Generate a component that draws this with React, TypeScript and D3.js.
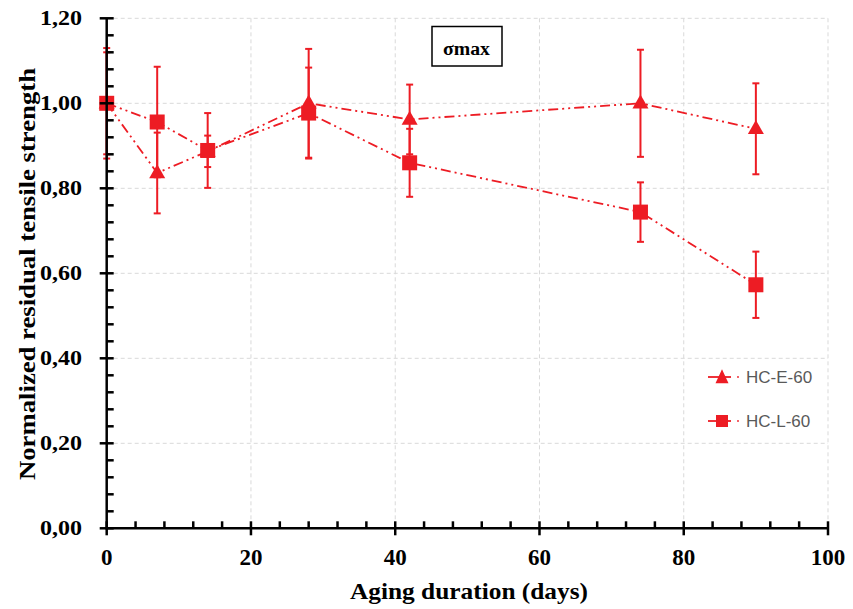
import React from "react";
import * as d3 from "d3";

const days = [0, 7, 14, 28, 42, 74, 90];
const e60Values = [1.0, 0.836, 0.887, 1.0, 0.962, 1.0, 0.94];
const e60Errors = [0.13, 0.095, 0.037, 0.128, 0.082, 0.126, 0.107];
const l60Values = [1.0, 0.956, 0.889, 0.977, 0.86, 0.744, 0.573];
const l60Errors = [0.12, 0.13, 0.088, 0.107, 0.08, 0.07, 0.078];
const xTicks = [0, 20, 40, 60, 80, 100];
const yTicks = [0, 0.2, 0.4, 0.6, 0.8, 1.0, 1.2];
const seriesNames = ["HC-E-60", "HC-L-60"];

const RED = "#ed1c24";
const DASH = "10,4,2,4,2,4";

export default function App() {
  const W = 853, H = 609;
  const x = d3.scaleLinear().domain([0, 100]).range([106.7, 828]);
  const y = d3.scaleLinear().domain([0, 1.2]).range([528.3, 18.3]);
  const line = d3.line<number>().x((_, i) => x(days[i])).y((v) => y(v));
  const xMinor = d3.range(0, 100.001, 4).filter((v) => v % 20 !== 0);
  const yMinor = d3.range(0, 1.2001, 0.04).filter((v) => Math.abs(v / 0.2 - Math.round(v / 0.2)) > 1e-6);
  const fmt = (v: number) => v.toFixed(2).replace(".", ",");
  const tri = (cx: number, cy: number, s = 16) => {
    const h = 14;
    return `M${cx},${cy - h * 0.62}L${cx + s / 2},${cy + h * 0.38}L${cx - s / 2},${cy + h * 0.38}Z`;
  };
  const series = [
    { name: seriesNames[0], vals: e60Values, errs: e60Errors, marker: "tri" },
    { name: seriesNames[1], vals: l60Values, errs: l60Errors, marker: "sq" },
  ];
  const x0 = x(0), y0 = y(0);
  return (
    <svg width={W} height={H} style={{ position: "absolute", left: 0, top: 0, background: "#fff" }}>
      <rect width={W} height={H} fill="#fff" />
      {/* grid */}
      {xTicks.filter((t) => t > 0).map((t) => (
        <line key={"gx" + t} x1={x(t)} x2={x(t)} y1={y(1.2)} y2={y0} stroke="#d9d9d9" strokeWidth={1} strokeDasharray="4,3" />
      ))}
      {yTicks.filter((t) => t > 0).map((t) => (
        <line key={"gy" + t} x1={x0} x2={x(100)} y1={y(t)} y2={y(t)} stroke="#d9d9d9" strokeWidth={1} strokeDasharray="4,3" />
      ))}
      {/* lines */}
      {series.map((s) => (
        <path key={"l" + s.name} d={line(s.vals) || ""} fill="none" stroke={RED} strokeWidth={1.8} strokeDasharray={DASH} />
      ))}
      {/* error bars + markers */}
      {series.map((s) => (
        <g key={"m" + s.name}>
          {s.vals.map((v, i) => {
            const cx = x(days[i]);
            const top = y(v + s.errs[i]);
            const bot = y(v - s.errs[i]);
            return (
              <g key={i}>
                <line x1={cx} x2={cx} y1={top} y2={bot} stroke={RED} strokeWidth={2} />
                <line x1={cx - 3.5} x2={cx + 3.5} y1={top} y2={top} stroke={RED} strokeWidth={2} />
                <line x1={cx - 3.5} x2={cx + 3.5} y1={bot} y2={bot} stroke={RED} strokeWidth={2} />
              </g>
            );
          })}
          {s.vals.map((v, i) => {
            const cx = x(days[i]);
            const cy = y(v);
            return s.marker === "tri" ? (
              <path key={"mk" + i} d={tri(cx, cy)} fill={RED} />
            ) : (
              <rect key={"mk" + i} x={cx - 7.5} y={cy - 7.5} width={15} height={15} fill={RED} />
            );
          })}
        </g>
      ))}
      {/* axes */}
      <line x1={x0} x2={x0} y1={y(1.2)} y2={y0 + 1} stroke="#000" strokeWidth={2.5} />
      <line x1={x0 - 1} x2={x(100)} y1={y0} y2={y0} stroke="#000" strokeWidth={2.5} />
      {yTicks.map((t) => (
        <line key={"yt" + t} x1={x0 - 7} x2={x0 + 7} y1={y(t)} y2={y(t)} stroke="#000" strokeWidth={2.5} />
      ))}
      {yMinor.map((t, i) => (
        <line key={"ym" + i} x1={x0} x2={x0 + 7} y1={y(t)} y2={y(t)} stroke="#000" strokeWidth={2.5} />
      ))}
      {xTicks.map((t) => (
        <line key={"xt" + t} x1={x(t)} x2={x(t)} y1={y0 - 7} y2={y0 + 7} stroke="#000" strokeWidth={2.5} />
      ))}
      {xMinor.map((t) => (
        <line key={"xm" + t} x1={x(t)} x2={x(t)} y1={y0 - 7} y2={y0} stroke="#000" strokeWidth={2.5} />
      ))}
      {/* tick labels */}
      {yTicks.map((t) => (
        <text key={"yl" + t} x={82} y={y(t) + 7} textAnchor="end" fontFamily="Liberation Serif" fontWeight="bold" fontSize={21}
          textLength={42} lengthAdjust="spacingAndGlyphs">
          {fmt(t)}
        </text>
      ))}
      {xTicks.map((t) => (
        <text key={"xl" + t} x={x(t)} y={565} textAnchor="middle" fontFamily="Liberation Serif" fontWeight="bold" fontSize={23}>
          {t}
        </text>
      ))}
      {/* axis titles */}
      <text x={469} y={599} textAnchor="middle" fontFamily="Liberation Serif" fontWeight="bold" fontSize={24}
        textLength={238} lengthAdjust="spacingAndGlyphs">
        Aging duration (days)
      </text>
      <text transform={`translate(35,274) rotate(-90)`} textAnchor="middle" fontFamily="Liberation Serif" fontWeight="bold" fontSize={23}
        textLength={412} lengthAdjust="spacingAndGlyphs">
        Normalized residual tensile strength
      </text>
      {/* title box */}
      <rect x={432} y={26.5} width={70} height={39.5} fill="#fff" stroke="#000" strokeWidth={1.5} />
      <text x={466.5} y={55} textAnchor="middle" fontFamily="Liberation Serif" fontWeight="bold" fontSize={18}
        textLength={47} lengthAdjust="spacingAndGlyphs">
        σmax
      </text>
      {/* legend */}
      {series.map((s, i) => {
        const ly = 377 + i * 44;
        return (
          <g key={"lg" + s.name}>
            <line x1={708} x2={731} y1={ly} y2={ly} stroke={RED} strokeWidth={1.8} />
            <circle cx={738} cy={ly} r={0.9} fill={RED} />
            {s.marker === "tri" ? (
              <path d={tri(722, ly + 1, 13)} fill={RED} />
            ) : (
              <rect x={716} y={ly - 6} width={12} height={12} fill={RED} />
            )}
            <text x={746} y={ly + 6} fontFamily="Liberation Sans" fontSize={17} fill="#595959">
              {s.name}
            </text>
          </g>
        );
      })}
    </svg>
  );
}
